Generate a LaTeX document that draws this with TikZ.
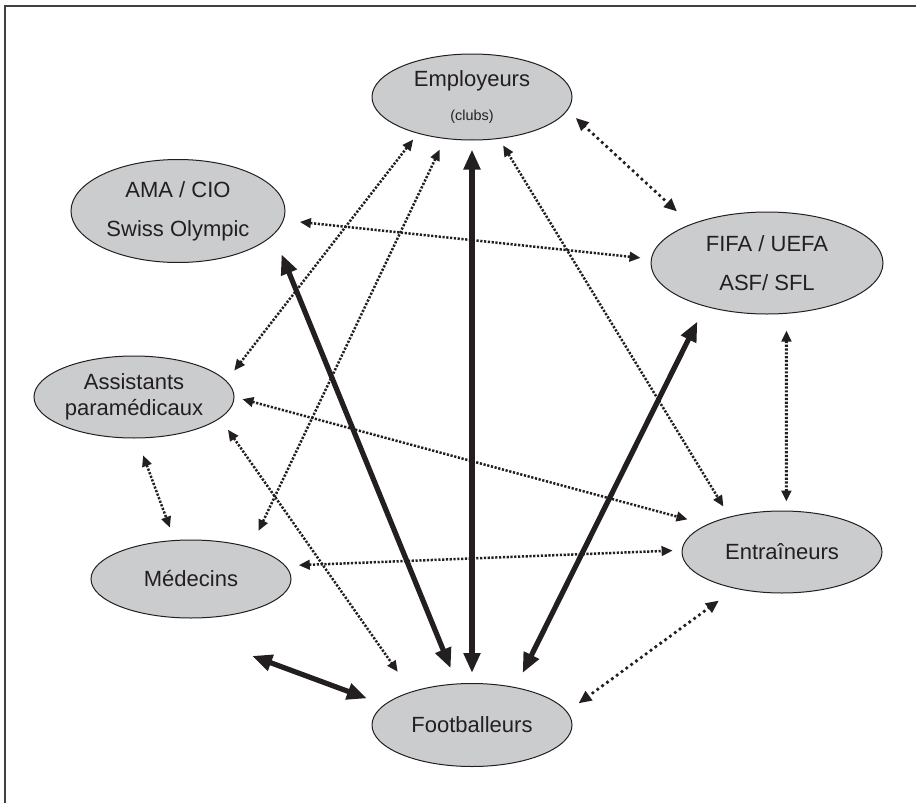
\documentclass[tikz,border=0pt]{standalone}
\usepackage{fontspec}
\setmainfont{Liberation Sans}
\usetikzlibrary{shapes.geometric,arrows.meta}
\definecolor{fondgris}{RGB}{203,204,206}
\definecolor{encre}{RGB}{35,31,32}

\begin{document}
\begin{tikzpicture}[x=0.5pt,y=-0.5pt,
    acteur/.style={ellipse,draw=encre,line width=0.5pt,fill=fondgris,inner sep=0pt,align=center,text=encre,font=\fontsize{11}{13}\selectfont},
    lien/.style={encre,line width=1.25pt,dash pattern=on 1.1pt off 0.8pt,>={Triangle[length=5.5pt,width=4.8pt]},<->},
    liengros/.style={encre,line width=1.9pt,line cap=round,dash pattern=on 0pt off 3pt,>={Triangle[length=6.5pt,width=5.5pt]},<->},
    fort/.style={encre,line width=2.6pt,>={Triangle[length=10pt,width=8pt]},<->}]
                \useasboundingbox (0,0) rectangle (916,803);
                \draw[black!75,line width=0.8pt] (5,803) -- (5,6) -- (916,6);
                % les acteurs
                \node[acteur,minimum width=100pt,minimum height=43pt] (emp) at (472,97) {Employeurs\\[4pt]{\fontsize{7.2}{8}\selectfont (clubs)}};
                \node[acteur,minimum width=107pt,minimum height=51.5pt] (ama) at (178,211) {AMA / CIO\\[6.5pt]Swiss Olympic};
                \node[acteur,minimum width=116pt,minimum height=51pt] (fifa) at (767,263) {FIFA / UEFA\\[6.5pt]ASF/ SFL};
                \node[acteur,minimum width=100pt,minimum height=41pt] (ass) at (134,397) {Assistants\\param\'edicaux};
                \node[acteur,minimum width=100pt,minimum height=39pt] (med) at (191,579) {M\'edecins};
                \node[acteur,minimum width=100pt,minimum height=41pt] (ent) at (782,552) {Entra\^ineurs};
                \node[acteur,minimum width=100pt,minimum height=41.5pt] (foot) at (472,725) {Footballeurs};
                % liens forts
                \draw[fort,shorten <=4.5pt,shorten >=5pt] (emp.-90) -- (foot.90);
                \draw[fort,shorten <=10.5pt,shorten >=8.2pt] (ama.-14.7) -- (foot.110.7);
                \draw[fort,shorten <=8.3pt,shorten >=7.9pt] (fifa.-145) -- (foot.41.4);
                \draw[fort,shorten <=69pt,shorten >=9.1pt] (med.203.8) -- (foot.167.2);
                % liens pointilles
                \draw[liengros,shorten <=5.5pt,shorten >=9.3pt] (emp.-8.1) -- (fifa.153.3);
                \draw[liengros,shorten <=10pt,shorten >=7pt] (ent.-142.3) -- (foot.8.3);
                \draw[lien,shorten <=8.1pt,shorten >=5.2pt] (ama.-5.7) -- (fifa.178.1);
                \draw[lien,shorten <=3.7pt,shorten >=6.4pt] (emp.-146.4) -- (ass.10.6);
                \draw[lien,shorten <=5.9pt,shorten >=9.1pt] (emp.-123.1) -- (med.28.1);
                \draw[lien,shorten <=3.8pt,shorten >=5.9pt] (emp.-57) -- (ent.146.5);
                \draw[lien,line width=1.5pt,shorten <=8.4pt,shorten >=4.5pt] (fifa.-69.3) -- (ent.84.4);
                \draw[lien,shorten <=4.1pt,shorten >=9.9pt] (ass.-0.5) -- (ent.160.6);
                \draw[lien,shorten <=6.9pt,shorten >=12pt] (ass.-14.3) -- (foot.151.5);
                \draw[lien,shorten <=9pt,shorten >=6.6pt] (ass.-86.2) -- (med.113);
                \draw[lien,shorten <=6.6pt,shorten >=4.5pt] (med.8.2) -- (ent.179.6);
\end{tikzpicture}
\end{document}
